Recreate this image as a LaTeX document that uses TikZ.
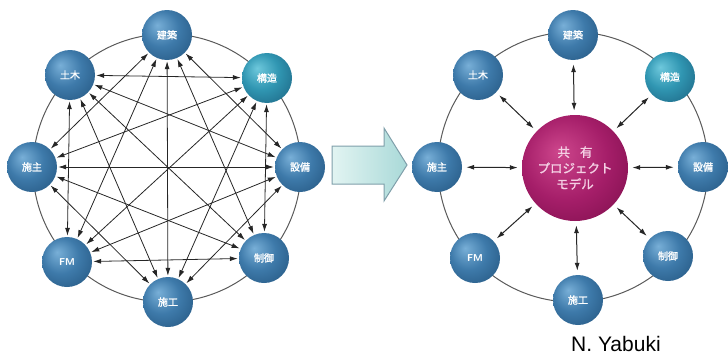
\documentclass[tikz,border=0pt]{standalone}
\usepackage{fontspec}
\setmainfont{Liberation Sans}
\newfontfamily\cjk[AutoFakeBold=1.5]{Noto Sans CJK JP}
\usetikzlibrary{arrows.meta,shapes.arrows}
\definecolor{ringgray}{HTML}{5A5A5A}
\definecolor{linegray}{HTML}{262626}
\definecolor{arrowedge}{HTML}{7F9FAA}
\definecolor{arrowfillA}{HTML}{E2F4F2}
\definecolor{arrowfillB}{HTML}{A9D9D8}
\definecolor{pinktext}{HTML}{F4D0E4}
\pgfdeclareradialshading{bsph}{\pgfpoint{-10bp}{10bp}}{%
  color(0bp)=(rgb,255:red,120;green,175;blue,215);
  color(18bp)=(rgb,255:red,62;green,122;blue,170);
  color(38bp)=(rgb,255:red,36;green,86;blue,128);
  color(50bp)=(rgb,255:red,22;green,58;blue,90)}
\pgfdeclareradialshading{tsph}{\pgfpoint{-10bp}{10bp}}{%
  color(0bp)=(rgb,255:red,110;green,200;blue,220);
  color(18bp)=(rgb,255:red,48;green,150;blue,178);
  color(38bp)=(rgb,255:red,28;green,100;blue,130);
  color(50bp)=(rgb,255:red,18;green,66;blue,92)}
\pgfdeclareradialshading{msph}{\pgfpoint{-8bp}{8bp}}{%
  color(0bp)=(rgb,255:red,205;green,70;blue,140);
  color(20bp)=(rgb,255:red,165;green,30;blue,105);
  color(40bp)=(rgb,255:red,120;green,12;blue,72);
  color(50bp)=(rgb,255:red,80;green,6;blue,48)}
\tikzset{
  ball/.style={circle, minimum size=50pt, inner sep=0pt, shading=bsph,
    text=white, font=\cjk\bfseries\fontsize{10}{11}\selectfont},
  tball/.style={ball, shading=tsph},
  hub/.style={circle, minimum size=106pt, inner sep=0pt, shading=msph,
    text=pinktext, align=center, font=\cjk\bfseries\fontsize{12.5}{16}\selectfont},
  ring/.style={draw=ringgray, line width=1pt},
  dbl/.style={draw=linegray, line width=0.8pt,
    {Latex[length=8pt,width=5pt]}-{Latex[length=8pt,width=5pt]}, shorten <=1pt, shorten >=1pt},
  spoke/.style={draw=linegray, line width=1pt,
    {Latex[length=8pt,width=5pt]}-{Latex[length=8pt,width=5pt]}, shorten <=4pt, shorten >=4pt},
  bigarrow/.style={draw=arrowedge, line width=1pt, left color=arrowfillA, right color=arrowfillB}
}
\begin{document}
\begin{tikzpicture}[x=1pt,y=-1pt]
\useasboundingbox (0,0) rectangle (728,356);
% rings
\coordinate (lc) at (167,168);
\coordinate (rc) at (573,167);
\draw[ring] (lc) circle[radius=134pt];
\draw[ring] (rc) circle[radius=135pt];
% left nodes
\node[ball]  (LA) at (167,35)  {建築};
\node[tball] (LB) at (267,78)  {構造};
\node[ball]  (LC) at (300,167) {設備};
\node[ball]  (LD) at (264,258) {制御};
\node[ball]  (LE) at (168,302) {施工};
\node[ball]  (LF) at (67,262)  {\sffamily\bfseries FM};
\node[ball]  (LG) at (32,167)  {施主};
\node[ball]  (LH) at (70,75)   {土木};
\foreach \a/\b in {LA/LC,LA/LD,LA/LE,LA/LF,LA/LG,
                   LB/LD,LB/LE,LB/LF,LB/LG,LB/LH,
                   LC/LE,LC/LF,LC/LG,LC/LH,
                   LD/LF,LD/LG,LD/LH,
                   LE/LG,LE/LH,
                   LF/LH}
  \draw[dbl] (\a) -- (\b);
% big arrow
\draw[bigarrow] (332,146) -- (384,146) -- (384,128) -- (407,165)
  -- (384,201) -- (384,184) -- (332,184) -- cycle;
% right nodes
\node[hub]   (C)  at (575,168) {共\hspace{0.8em}有\\プロジェクト\\モデル};
\node[ball]  (RA) at (573,35)  {建築};
\node[tball] (RB) at (670,77)  {構造};
\node[ball]  (RC) at (703,167) {設備};
\node[ball]  (RD) at (668,256) {制御};
\node[ball]  (RE) at (578,300) {施工};
\node[ball]  (RF) at (475,258) {\sffamily\bfseries FM};
\node[ball]  (RG) at (437,167) {施主};
\node[ball]  (RH) at (478,75)  {土木};
\foreach \a in {RA,RB,RC,RD,RE,RF,RG,RH}
  \draw[spoke] (\a) -- (C);
% credit
\node[anchor=base west, inner sep=0pt, font=\fontsize{21}{23}\selectfont] (credit) at (571,351) {N. Yabuki};
\end{tikzpicture}
\end{document}
